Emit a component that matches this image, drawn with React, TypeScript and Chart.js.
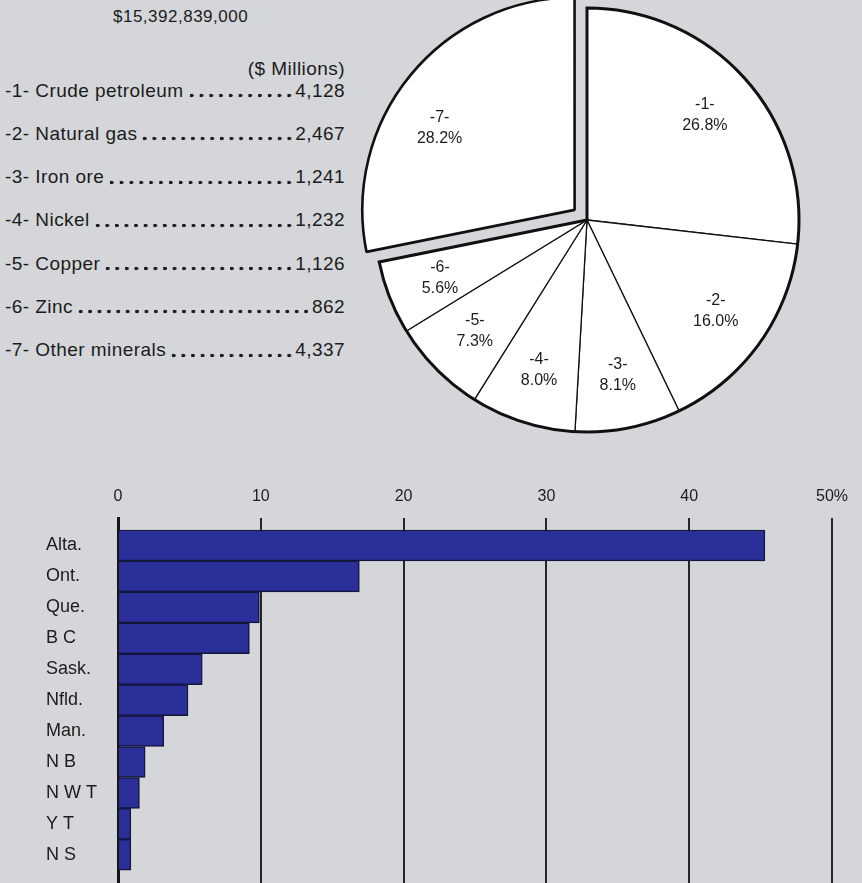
import React, { useEffect, useRef } from 'react';
import { Chart, registerables } from 'chart.js';

Chart.register(...registerables);

// ---------- data ----------
const totalLabel = '$15,392,839,000';
const unitLabel = '($ Millions)';
const mineralNumbers = ['-1-', '-2-', '-3-', '-4-', '-5-', '-6-', '-7-'];
const minerals = ['Crude petroleum', 'Natural gas', 'Iron ore', 'Nickel', 'Copper', 'Zinc', 'Other minerals'];
const mineralValues = [4128, 2467, 1241, 1232, 1126, 862, 4337];

const provinces = ['Alta.', 'Ont.', 'Que.', 'B C', 'Sask.', 'Nfld.', 'Man.', 'N B', 'N W T', 'Y T', 'N S'];
const provinceShares = [45.3, 16.9, 9.9, 9.2, 5.9, 4.9, 3.2, 1.9, 1.5, 0.9, 0.9];
const shareTickLabels = ['0', '10', '20', '30', '40', '50%'];

// ---------- style ----------
const FONT = '"Liberation Sans", Arial, Helvetica, sans-serif';
const INK = '#1c1c1c';
const BG = '#d4d6d9';
const sliceOffsets = [0, 0, 0, 0, 0, 0, 64];
const sliceBorders = [1.3, 1.3, 1.3, 1.3, 1.3, 1.3, 2.6];
const labelAngleNudgeDeg = [0, 0, 0, 0, 0, 0, -8];

const mineralTotal = mineralValues.reduce((a, b) => a + b, 0);
const percentLabels = mineralValues.map((v) => ((v / mineralTotal) * 100).toFixed(1) + '%');
const valueLabels = mineralValues.map((v) => v.toLocaleString('en-US'));

const pieDecor = {
  id: 'pieDecor',
  afterDatasetsDraw(chart: any) {
    const ctx = chart.ctx as CanvasRenderingContext2D;
    const arcs = chart.getDatasetMeta(0).data as any[];
    if (!arcs.length) return;
    const first = arcs[0];
    const lastJoined = arcs[5];
    const x = first.x;
    const y = first.y;
    const R = first.outerRadius;
    ctx.save();
    ctx.strokeStyle = '#111';
    ctx.lineWidth = 3;
    ctx.lineJoin = 'miter';
    ctx.beginPath();
    ctx.moveTo(x, y);
    ctx.arc(x, y, R, first.startAngle, lastJoined.endAngle);
    ctx.closePath();
    ctx.stroke();

    ctx.font = `16px ${FONT}`;
    ctx.fillStyle = INK;
    ctx.textAlign = 'center';
    ctx.textBaseline = 'middle';
    arcs.forEach((arc, i) => {
      const mid = (arc.startAngle + arc.endAngle) / 2;
      const off = sliceOffsets[i] / 4;
      const cx = x + Math.cos(mid) * off;
      const cy = y + Math.sin(mid) * off;
      const a = mid + (labelAngleNudgeDeg[i] * Math.PI) / 180;
      const lx = cx + Math.cos(a) * R * 0.745;
      const ly = cy + Math.sin(a) * R * 0.745;
      ctx.fillText(mineralNumbers[i], lx, ly - 10.5);
      ctx.fillText(percentLabels[i], lx, ly + 10.5);
    });
    ctx.restore();
  },
};

function PieChart() {
  const ref = useRef<HTMLCanvasElement>(null);
  useEffect(() => {
    if (!ref.current) return;
    const chart = new Chart(ref.current, {
      type: 'pie',
      data: {
        labels: minerals,
        datasets: [
          {
            data: mineralValues,
            backgroundColor: '#ffffff',
            borderColor: '#111111',
            borderWidth: sliceBorders,
            offset: sliceOffsets,
            hoverOffset: 0,
          } as any,
        ],
      },
      options: {
        responsive: false,
        animation: false,
        devicePixelRatio: 1,
        radius: 212,
        events: [],
        plugins: { legend: { display: false }, tooltip: { enabled: false } },
      } as any,
      plugins: [pieDecor],
    });
    return () => chart.destroy();
  }, []);
  return (
    <canvas
      ref={ref}
      width={460}
      height={460}
      style={{ position: 'absolute', left: 357, top: -10, width: 460, height: 460 }}
    />
  );
}

function BarChart() {
  const ref = useRef<HTMLCanvasElement>(null);
  useEffect(() => {
    if (!ref.current) return;
    const chart = new Chart(ref.current, {
      type: 'bar',
      data: {
        datasets: [
          {
            data: provinceShares.map((v, i) => ({ x: v, y: i })),
            backgroundColor: '#2a2f99',
            borderColor: '#14173c',
            borderWidth: 1.5,
            barPercentage: 1,
            categoryPercentage: 1,
          } as any,
        ],
      },
      options: {
        indexAxis: 'y',
        responsive: false,
        animation: false,
        devicePixelRatio: 1,
        events: [],
        layout: { padding: { left: 46, right: 30, top: 6, bottom: 0 } },
        plugins: { legend: { display: false }, tooltip: { enabled: false } },
        scales: {
          x: {
            type: 'linear',
            position: 'top',
            min: 0,
            max: 50,
            ticks: {
              stepSize: 10,
              padding: 11.4,
              color: INK,
              font: { family: FONT, size: 16 },
              callback: (_v: any, i: number) => shareTickLabels[i],
            },
            grid: { color: '#262626', lineWidth: 2, drawTicks: false },
            border: { display: false },
          },
          y: {
            type: 'linear',
            reverse: true,
            offset: false,
            bounds: 'data',
            min: -0.888,
            max: 11.5,
            afterBuildTicks: (s: any) => {
              s.ticks = provinces.map((_, i) => ({ value: i }));
            },
            afterFit: (s: any) => {
              s.width = 72;
            },
            ticks: {
              crossAlign: 'far',
              padding: 0,
              color: INK,
              font: { family: FONT, size: 18 },
              callback: (v: any) => provinces[v] ?? '',
            },
            grid: { display: false, offset: false },
            border: { display: true, color: '#161616', width: 3 },
          },
        },
      } as any,
    });
    return () => chart.destroy();
  }, []);
  return (
    <canvas
      ref={ref}
      width={862}
      height={442}
      style={{ position: 'absolute', left: 0, top: 470, width: 862, height: 442 }}
    />
  );
}

export default function App() {
  const rowStyle = (i: number): React.CSSProperties => ({
    position: 'absolute',
    left: 5,
    width: 340,
    top: 90.5 + i * 43.25 - 11,
    height: 22,
    lineHeight: '22px',
    display: 'flex',
    alignItems: 'center',
    fontSize: 19,
    letterSpacing: '0.45px',
    whiteSpace: 'nowrap',
  });
  return (
    <div
      style={{
        position: 'fixed',
        left: 0,
        top: 0,
        width: 862,
        height: 883,
        overflow: 'hidden',
        background: BG,
        fontFamily: FONT,
        color: INK,
      }}
    >
      <div
        style={{
          position: 'absolute',
          left: 113,
          top: 16.7 - 10,
          height: 20,
          lineHeight: '20px',
          fontSize: 17,
          letterSpacing: '0.5px',
          whiteSpace: 'nowrap',
        }}
      >
        {totalLabel}
      </div>
      <div
        style={{
          position: 'absolute',
          left: 5,
          width: 340,
          top: 68.5 - 11,
          height: 22,
          lineHeight: '22px',
          fontSize: 19,
          letterSpacing: '0.45px',
          textAlign: 'right',
          whiteSpace: 'nowrap',
        }}
      >
        {unitLabel}
      </div>
      {minerals.map((name, i) => (
        <div key={name} style={rowStyle(i)}>
          <span>{`${mineralNumbers[i]} ${name}`}</span>
          <span
            aria-hidden="true"
            style={{
              flex: 1,
              alignSelf: 'stretch',
              margin: '0 1px 0 3px',
              backgroundImage: `radial-gradient(circle at center, ${INK} 0, ${INK} 1.6px, rgba(0,0,0,0) 2.1px)`,
              backgroundSize: '9.4px 5px',
              backgroundRepeat: 'space no-repeat',
              backgroundPosition: 'left 0px top 13.5px',
            }}
          />
          <span>{valueLabels[i]}</span>
        </div>
      ))}
      <PieChart />
      <BarChart />
    </div>
  );
}
